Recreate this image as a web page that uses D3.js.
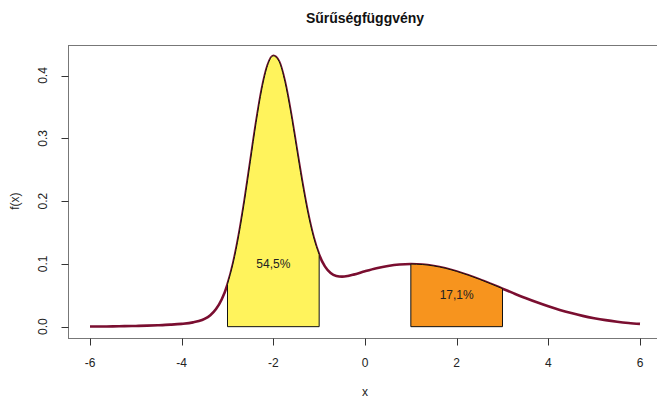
<!DOCTYPE html>
<html>
<head>
<meta charset="utf-8">
<script src="https://cdn.jsdelivr.net/npm/d3@7"></script>
<style>
  html, body { margin: 0; padding: 0; background: #fff; }
  svg { display: block; font-family: "Liberation Sans", Arial, sans-serif; }
</style>
</head>
<body>
<svg id="chart" width="657" height="398"></svg>
<script>
// Data
const title = "Sűrűségfüggvény";
const xLabel = "x";
const yLabel = "f(x)";
const xTicks = [-6, -4, -2, 0, 2, 4, 6];
const yTicks = [0.0, 0.1, 0.2, 0.3, 0.4];
const xs = [-6, -5.75, -5.5, -5.25, -5, -4.75, -4.5, -4.25, -4, -3.75, -3.625, -3.5, -3.375, -3.25, -3.125,
  -3, -2.875, -2.75, -2.625, -2.5, -2.375, -2.25, -2.125, -2, -1.875, -1.75, -1.625, -1.5, -1.375, -1.25, -1.125,
  -1, -0.875, -0.75, -0.625, -0.5, -0.375, -0.25, 0, 0.25, 0.5, 0.75, 1, 1.25, 1.5, 1.75, 2, 2.25, 2.5, 2.75,
  3, 3.25, 3.5, 3.75, 4, 4.25, 4.5, 4.75, 5, 5.25, 5.5, 5.75, 6];
const fx = [0.0002, 0.0003, 0.0005, 0.0008, 0.0011, 0.0016, 0.0023, 0.0032, 0.0045, 0.0068, 0.0089, 0.0124, 0.0182, 0.0280, 0.0436,
  0.0675, 0.1015, 0.1467, 0.2019, 0.2635, 0.3252, 0.3787, 0.4161, 0.4313, 0.4222, 0.3908, 0.3433, 0.2876, 0.2319, 0.1825, 0.1430,
  0.1145, 0.0960, 0.0855, 0.0808, 0.0797, 0.0808, 0.0829, 0.0882, 0.0930, 0.0967, 0.0990, 0.0997, 0.0990, 0.0967, 0.0930, 0.0880, 0.0820, 0.0753, 0.0680,
  0.0605, 0.0530, 0.0457, 0.0388, 0.0324, 0.0266, 0.0216, 0.0172, 0.0135, 0.0104, 0.0079, 0.0059, 0.0044];
const regions = [
  { from: -3, to: -1, label: "54,5%", lx: -2, ly: 0.10, fill: "#FFF35C" },
  { from: 1, to: 3, label: "17,1%", lx: 2, ly: 0.05, fill: "#F7941E" }
];

const svg = d3.select("#chart");
const margin = { left: 68, top: 45, right: -5, bottom: 60 };
const W = 657, H = 398;
const x = d3.scaleLinear().domain([-6.48, 6.48]).range([margin.left, W - margin.right]);
const y = d3.scaleLinear().domain([-0.01725, 0.4486]).range([H - margin.bottom - 0.5, margin.top]);

const pts = xs.map((v, i) => ({ x: v, y: fx[i] }));
const line = d3.line().x(d => x(d.x)).y(d => y(d.y)).curve(d3.curveMonotoneX);

// density curve
svg.append("path").datum(pts).attr("d", line)
  .attr("fill", "none").attr("stroke", "#7A0E30").attr("stroke-width", 2.6)
  .attr("stroke-linejoin", "round");

// shaded regions
regions.forEach(r => {
  const sub = pts.filter(d => d.x >= r.from && d.x <= r.to);
  const poly = [{ x: r.from, y: 0 }].concat(sub).concat([{ x: r.to, y: 0 }]);
  const area = d3.line().x(d => x(d.x)).y(d => y(d.y)).curve(d3.curveLinear);
  const top = line(sub);
  const d = "M" + x(r.from) + "," + y(0) + "L" + top.slice(1) + "L" + x(r.to) + "," + y(0) + "Z";
  svg.append("path").attr("d", d).attr("fill", r.fill).attr("stroke", "#111").attr("stroke-width", 1);
  svg.append("text").attr("x", x(r.lx)).attr("y", y(r.ly)).attr("text-anchor", "middle")
    .attr("dominant-baseline", "central").attr("font-size", 12).attr("fill", "#222").text(r.label);
});

// plot box
svg.append("rect").attr("x", margin.left + 0.5).attr("y", margin.top + 0.5)
  .attr("width", W - margin.right - margin.left).attr("height", H - margin.bottom - margin.top)
  .attr("fill", "none").attr("stroke", "#777").attr("stroke-width", 1);

// x axis
const xAxisY = H - margin.bottom + 0.5;
svg.append("line").attr("x1", x(xTicks[0])).attr("x2", x(xTicks[xTicks.length - 1]))
  .attr("y1", xAxisY).attr("y2", xAxisY).attr("stroke", "#777");
xTicks.forEach(t => {
  svg.append("line").attr("x1", Math.round(x(t)) + 0.5).attr("x2", Math.round(x(t)) + 0.5)
    .attr("y1", xAxisY).attr("y2", xAxisY + 7).attr("stroke", "#333");
  svg.append("text").attr("x", x(t)).attr("y", 367).attr("text-anchor", "middle")
    .attr("font-size", 12).attr("fill", "#222").text(t);
});
svg.append("text").attr("x", x(0)).attr("y", 396).attr("text-anchor", "middle")
  .attr("font-size", 12).attr("fill", "#222").text(xLabel);

// y axis
const yAxisX = margin.left + 0.5;
yTicks.forEach(t => {
  svg.append("line").attr("x1", yAxisX - 7).attr("x2", yAxisX)
    .attr("y1", Math.round(y(t)) + 0.5).attr("y2", Math.round(y(t)) + 0.5).attr("stroke", "#333");
  svg.append("text").attr("transform", `translate(47,${y(t)}) rotate(-90)`)
    .attr("text-anchor", "middle").attr("font-size", 12).attr("fill", "#222").text(t.toFixed(1));
});
svg.append("text").attr("transform", `translate(19,${(y(0) + y(0.4)) / 2 + 0}) rotate(-90)`)
  .attr("text-anchor", "middle").attr("font-size", 12).attr("fill", "#222").text(yLabel);

// title
svg.append("text").attr("x", x(0)).attr("y", 23).attr("text-anchor", "middle")
  .attr("font-size", 14).attr("font-weight", "bold").attr("fill", "#111").text(title);
</script>
</body>
</html>
